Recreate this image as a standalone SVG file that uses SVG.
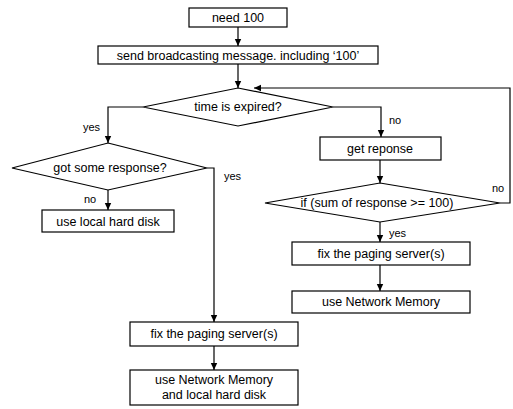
<svg xmlns="http://www.w3.org/2000/svg" width="513" height="409" viewBox="0 0 513 409">
<style>
.b{fill:#fff;stroke:#000;stroke-width:1.2}
.t{font-family:"Liberation Sans",Arial,sans-serif;font-size:12.5px;fill:#000;text-anchor:middle}
.l{font-family:"Liberation Sans",Arial,sans-serif;font-size:11px;fill:#000}
.c{fill:none;stroke:#000;stroke-width:1.2}
</style>
<defs>
<marker id="a" markerWidth="8" markerHeight="8" refX="7" refY="4" orient="auto" markerUnits="userSpaceOnUse">
<path d="M0,0.8 L7,4 L0,7.2 Z" fill="#000"/>
</marker>
</defs>
<rect width="513" height="409" fill="#fff"/>
<g id="connectors">
<path class="c" d="M238,27 V46" marker-end="url(#a)"/>
<path class="c" d="M238,64 V88" marker-end="url(#a)"/>
<path class="c" d="M143,107 H108 V143" marker-end="url(#a)"/>
<path class="c" d="M333,107 H381 V137" marker-end="url(#a)"/>
<path class="c" d="M380,160 V183" marker-end="url(#a)"/>
<path class="c" d="M500,203 H510 V88 H254" marker-end="url(#a)"/>
<path class="c" d="M380,222 V242" marker-end="url(#a)"/>
<path class="c" d="M380,265 V291" marker-end="url(#a)"/>
<path class="c" d="M207,168 H214 V322" marker-end="url(#a)"/>
<path class="c" d="M108,190 V210" marker-end="url(#a)"/>
<path class="c" d="M214,346 V370" marker-end="url(#a)"/>
<text class="l" x="83" y="131">yes</text>
<text class="l" x="389" y="124">no</text>
<text class="l" x="492" y="192">no</text>
<text class="l" x="389" y="237">yes</text>
<text class="l" x="224" y="180">yes</text>
<text class="l" x="84" y="203">no</text>
</g>
<g id="need100"><rect class="b" x="189" y="8" width="98" height="19"/><text class="t" x="238" y="22">need 100</text></g>
<g id="send"><rect class="b" x="98" y="46" width="280" height="18"/><text class="t" x="238" y="59.5">send broadcasting message. including ‘100’</text></g>
<g id="expired"><path class="b" d="M238,88 L333,107 L238,126 L143,107 Z"/><text class="t" x="238" y="111">time is expired?</text></g>
<g id="getresponse"><rect class="b" x="320" y="137" width="121" height="23"/><text class="t" x="380" y="153">get reponse</text></g>
<g id="sum"><path class="b" d="M380,183 L500,203 L380,222 L265,203 Z"/><text class="t" x="377" y="207">if (sum of response &gt;= 100)</text></g>
<g id="fix1"><rect class="b" x="292" y="242" width="178" height="23"/><text class="t" x="381" y="258">fix the paging server(s)</text></g>
<g id="netmem"><rect class="b" x="292" y="291" width="178" height="22"/><text class="t" x="381" y="306">use Network Memory</text></g>
<g id="gotsome"><path class="b" d="M108,143 L207,168 L108,190 L12,168 Z"/><text class="t" x="110" y="172">got some response?</text></g>
<g id="localdisk"><rect class="b" x="42" y="210" width="132" height="22"/><text class="t" x="108" y="226">use local hard disk</text></g>
<g id="fix2"><rect class="b" x="130" y="322" width="168" height="24"/><text class="t" x="214" y="338">fix the paging server(s)</text></g>
<g id="both"><rect class="b" x="130" y="370" width="168" height="35"/><text class="t" x="214" y="384">use Network Memory</text><text class="t" x="214" y="399">and local hard disk</text></g>
</svg>
